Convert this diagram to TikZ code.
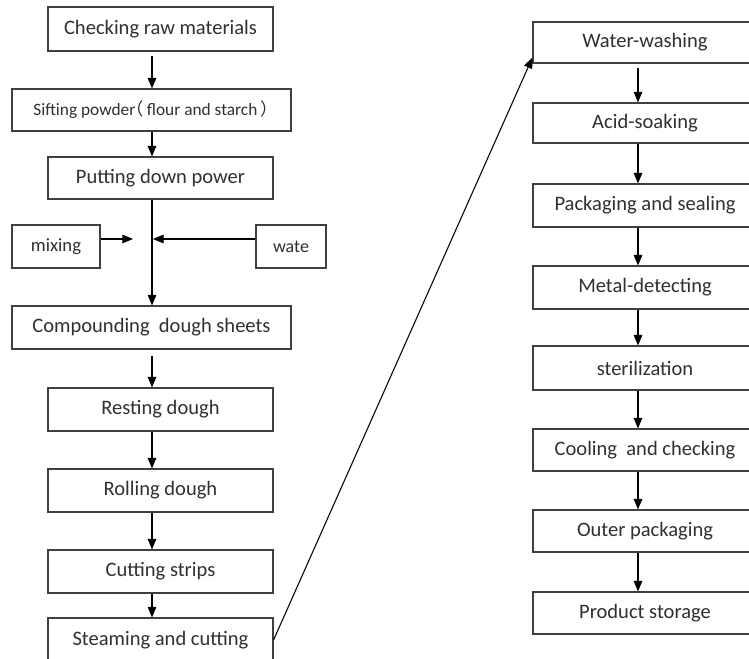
\documentclass[tikz,border=0pt]{standalone}
\usepackage{fontspec}
\setmainfont{Carlito}
\newfontfamily\cjk{Noto Sans CJK SC}
\usetikzlibrary{arrows.meta}
\definecolor{ink}{HTML}{303030}
\definecolor{edge}{HTML}{404040}
\begin{document}
\begin{tikzpicture}[x=0.75pt,y=-0.75pt,
  box/.style 2 args={draw=edge,line width=0.85pt,inner sep=0pt,text=ink,
    minimum width=#1*0.75pt,minimum height=#2*0.75pt,
    font=\fontsize{15.4}{18}\selectfont},
  arr/.style={draw=black,line width=0.8pt,-{Triangle[length=8pt,width=6.5pt]}},
  ln/.style={draw=black,line width=0.8pt}]
\useasboundingbox (0,0) rectangle (749,659);
\clip (0,0) rectangle (749,659);
\fill[white] (0,0) rectangle (749,659);
\coordinate (ax) at (152,0);
\coordinate (axR) at (638,0);
% left column
\node[box={225}{44}] (chk) at (160.5,29) {Checking raw materials};
\node[box={279}{42},font=\fontsize{13}{15}\selectfont] (sift) at (151.5,110) {\hspace{6pt}Sifting powder{\cjk\kern-0.5em（}\,flour and starch\,{\cjk）}};
\node[box={225}{42}] (put) at (160.5,178) {Putting down power};
\node[box={88}{43},font=\fontsize{14}{17}\selectfont] (mix) at (56,246.5) {mixing};
\node[box={70}{43},font=\fontsize{13.5}{16}\selectfont] (wate) at (291,246.5) {wate};
\node[box={279}{43}] (comp) at (151.5,327.5) {Compounding\ \ dough sheets};
\node[box={225}{43}] (rest) at (160.5,409.5) {Resting dough};
\node[box={225}{43}] (roll) at (160.5,490.5) {Rolling dough};
\node[box={225}{43}] (cut) at (160.5,571.5) {Cutting strips};
\node[box={225}{44}] (steam) at (160.5,640) {Steaming and cutting};
% right column
\node[box={224}{41}] (wash) at (645,42.5) {Water-washing};
\node[box={224}{40}] (acid) at (645,123) {Acid-soaking};
\node[box={224}{43}] (pack) at (645,205.5) {Packaging and sealing};
\node[box={224}{43}] (metal) at (645,287.5) {Metal-detecting};
\node[box={224}{44}] (ster) at (645,368) {sterilization};
\node[box={224}{42}] (cool) at (645,450) {Cooling\ \ and checking};
\node[box={224}{42}] (outer) at (645,531) {Outer packaging};
\node[box={224}{42}] (prod) at (645,613) {Product storage};
% coordinates for side inputs
\coordinate (mixend) at (133,239);
\coordinate (wateend) at (153,239);
% left connectors
\draw[arr,shorten <=3.5pt] (chk.south -| ax) -- (sift.north -| ax);
\draw[arr] (sift.south -| ax) -- (put.north -| ax);
\draw[arr] (put.south -| ax) -- (comp.north -| ax);
\draw[arr] (mixend -| mix.east) -- (mixend);
\draw[arr] (wateend -| wate.west) -- (wateend);
\draw[arr,shorten <=4.5pt] (comp.south -| ax) -- (rest.north -| ax);
\draw[arr] (rest.south -| ax) -- (roll.north -| ax);
\draw[arr] (roll.south -| ax) -- (cut.north -| ax);
\draw[arr] (cut.south -| ax) -- (steam.north -| ax);
% cross connector
\draw[arr] (steam.east) -- ([yshift=4.5pt]wash.south west);
% right connectors
\draw[arr,shorten <=3.5pt] (wash.south -| axR) -- (acid.north -| axR);
\draw[arr] (acid.south -| axR) -- (pack.north -| axR);
\draw[arr] (pack.south -| axR) -- (metal.north -| axR);
\draw[arr] (metal.south -| axR) -- (ster.north -| axR);
\draw[arr] (ster.south -| axR) -- (cool.north -| axR);
\draw[arr] (cool.south -| axR) -- (outer.north -| axR);
\draw[arr] (outer.south -| axR) -- (prod.north -| axR);
\end{tikzpicture}
\end{document}
